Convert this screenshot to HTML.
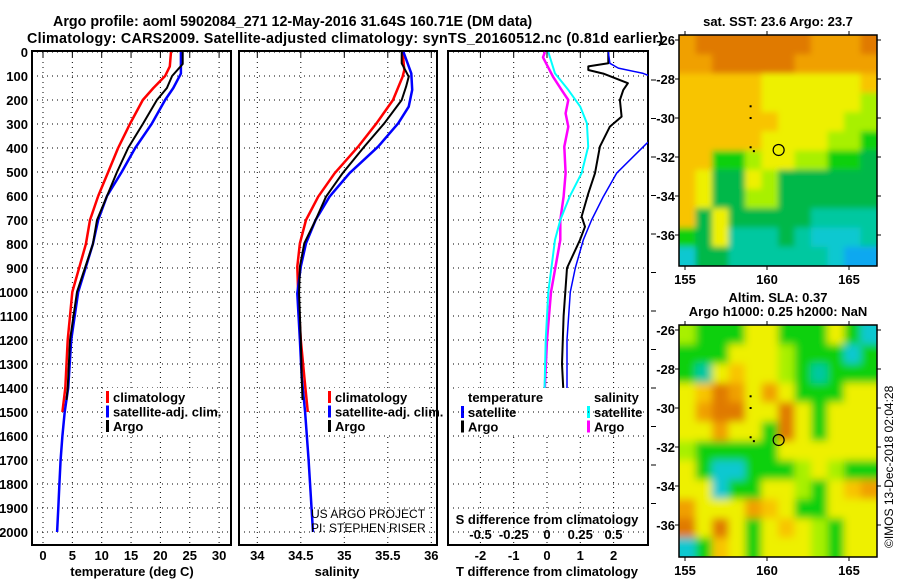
<!DOCTYPE html>
<html><head><meta charset="utf-8">
<style>
body{margin:0;background:#fff;width:900px;height:580px;overflow:hidden}
svg{display:block}
text{font-family:"Liberation Sans",sans-serif;fill:#000}
.b{font-weight:bold;font-size:13px}
.t{font-weight:bold;font-size:14.3px}
</style></head><body>
<svg id="chart" width="900" height="580" xmlns="http://www.w3.org/2000/svg">
<text class="t" x="53" y="26">Argo profile: aoml 5902084_271 12-May-2016 31.64S 160.71E (DM data)</text>
<text class="t" x="27" y="43" textLength="636">Climatology: CARS2009. Satellite-adjusted climatology: synTS_20160512.nc (0.81d earlier)</text>
<g id="g"></g>
</svg>
<script>
// ---------- data ----------
const depthTicks=[0,100,200,300,400,500,600,700,800,900,1000,1100,1200,1300,1400,1500,1600,1700,1800,1900,2000];
const tempTicks=[0,5,10,15,20,25,30];
const salTicks=[34,34.5,35,35.5,36];
const salTickLabels=["34","34.5","35","35.5","36"];
const tdTicks=[-2,-1,0,1,2];
const sdTicks=[-0.5,-0.25,0,0.25,0.5];
const sdTickLabels=["-0.5","-0.25","0","0.25","0.5"];

const climTDepth=[0,60,100,150,200,300,400,500,600,700,800,1000,1200,1400,1500];
const climTVal=[21.8,21.6,20.8,18.8,17.0,14.8,12.8,11.1,9.4,8.0,7.3,5.0,4.2,3.8,3.3];
const argoTDepth=[0,50,100,150,200,300,400,500,600,700,800,1000,1200,1400,1450];
const argoTVal=[23.8,23.8,22.0,21.1,19.4,17.0,14.5,12.6,10.9,9.2,8.5,5.8,4.6,4.2,4.0];
const satTDepth=[0,90,150,200,300,400,500,600,700,800,1000,1200,1400,1500,1600,1700,1800,1900,2000];
const satTVal=[23.5,23.5,22.2,20.8,18.5,15.7,13.4,10.9,9.4,8.5,6.0,4.8,4.3,3.7,3.3,3.0,2.8,2.6,2.4];

const climSDepth=[0,75,103,200,297,394,505,603,700,797,894,1006,1200,1353,1500];
const climSVal=[35.67,35.69,35.67,35.56,35.37,35.16,34.89,34.70,34.56,34.49,34.46,34.47,34.50,34.54,34.58];
const argoSDepth=[0,47,103,144,200,297,394,505,603,700,797,894,1006,1200,1353,1450];
const argoSVal=[35.66,35.66,35.74,35.71,35.66,35.46,35.23,34.98,34.79,34.67,34.54,34.49,34.48,34.50,34.51,34.52];
const satSDepth=[0,89,158,228,297,394,505,603,700,797,894,1006,1200,1353,1500,1700,2000];
const satSVal=[35.68,35.77,35.78,35.74,35.62,35.39,35.06,34.83,34.67,34.56,34.50,34.46,34.49,34.51,34.55,34.59,34.64];

const dTArgoDepth=[0,47,60,75,90,130,158,200,269,311,394,505,589,686,728,783,900,1000,1100,1300,1430];
const dTArgoVal=[1.84,1.84,1.24,1.24,1.69,2.43,2.29,2.19,2.24,1.89,1.59,1.44,1.24,1.04,1.14,0.99,0.6,0.55,0.5,0.45,0.5];
const dTSatDepth=[0,47,67,89,150,250,330,380,505,603,700,783,900,1000,1200,1400,1450];
const dTSatVal=[1.84,1.89,2.14,2.89,4.0,4.0,3.5,3.0,2.09,1.69,1.34,1.09,0.85,0.7,0.6,0.6,0.65];
const dSArgoDepth=[0,22,103,158,200,256,311,394,505,603,700,783,1000,1200,1450];
const dSArgoVal=[-0.015,-0.03,0.045,0.11,0.16,0.14,0.16,0.13,0.14,0.125,0.10,0.10,0.03,0.0,-0.02];
const dSSatDepth=[0,89,158,228,297,394,505,603,700,783,1000,1200,1450];
const dSSatVal=[0.01,0.06,0.16,0.25,0.30,0.31,0.26,0.17,0.10,0.06,0.01,-0.01,-0.02];

const mapLon=[155,160,165];
const mapLat=[-26,-28,-30,-32,-34,-36];
const sstGrid=["oOOOOOOOoooO","ooOOOOOooooo","YYYYYyyyyyyY","YYYYYyyyyyyl","YYYYYYyyyyll","YYYYYyyyyllg","YYgglyyllggG","YyGGylGGGGGG","YyGGllGGGGGG","YGyGGGGGtttt","gGytttGtccct","cGGttttttcbb"];
const slaGrid=["lgggyygggygc","gggyyylgggcg","gtyYyylgtggg","yYOoyoygggyy","yoOOyyOygyyy","yyoyygOygyyy","lgggggyyyyyy","ygccggglylgg","yycggyylgyYo","oyyyoYyggyyy","OyOygyYylgyy","cgYygyyylgyy"];
const cmap={O:"#e07a00",o:"#f0a000",Y:"#f8c400",y:"#eef000",l:"#a8f000",g:"#10d010",G:"#00b848",t:"#00c8a0",c:"#10c8d0",b:"#10a8f0"};

// ---------- helpers ----------
const NS="http://www.w3.org/2000/svg";
const G=document.getElementById('g');
function mk(tag,attrs,parent){const e=document.createElementNS(NS,tag);for(const k in attrs)e.setAttribute(k,attrs[k]);(parent||G).appendChild(e);return e;}
const yD=d=>52+0.24*d;
const xT=t=>43+5.87*t;
const xS=s=>257.3+87*(s-34);
const xdT=v=>547+33.3*v;
const xdS=v=>547+133*v;

const panels=[{x0:32,x1:231,name:'temperature-panel'},{x0:239,x1:437,name:'salinity-panel'},{x0:448,x1:648,name:'difference-panel'}];
mk('clipPath',{id:'c0'}).appendChild(mk('rect',{x:32,y:51,width:199,height:494}));
mk('clipPath',{id:'c1'}).appendChild(mk('rect',{x:239,y:51,width:198,height:494}));
mk('clipPath',{id:'c2'}).appendChild(mk('rect',{x:448,y:51,width:200,height:494}));

panels.forEach((p,i)=>{
  const r=mk('rect',{x:p.x0,y:51,width:p.x1-p.x0,height:494,fill:'#fff',stroke:'#000','stroke-width':2});
  
  
  depthTicks.forEach(d=>{
    const l=mk('line',{x1:p.x0,x2:p.x1,y1:yD(d),y2:yD(d),stroke:'#000','stroke-width':1,'stroke-dasharray':'1 4'});
    
    
  });
});
depthTicks.forEach(d=>{
  const t=mk('text',{x:28,y:yD(d)+5,'text-anchor':'end','class':'b'});t.textContent=d;
  
  
});
function vgrid(xs,fx,labels,ly){
  xs.forEach((v,i)=>{
    const l=mk('line',{x1:fx(v),x2:fx(v),y1:52,y2:545,stroke:'#000','stroke-dasharray':'1 4'});
    
    
    mk('line',{x1:fx(v),x2:fx(v),y1:51,y2:57,stroke:'#000'});
    const t=mk('text',{x:fx(v),y:ly,'text-anchor':'middle','class':'b'});t.textContent=labels[i];
    
    
  });
}
vgrid(tempTicks,xT,tempTicks.map(String),560);
vgrid(salTicks,xS,salTickLabels,560);
vgrid(tdTicks,xdT,tdTicks.map(String),560);
sdTicks.forEach((v,i)=>{const t=mk('text',{x:xdS(v),y:539,'text-anchor':'middle','class':'b'});t.textContent=sdTickLabels[i];
  
  });

function line(ds,vs,fx,color,w,clip,name){
  const d=ds.map((dd,i)=>(i?'L':'M')+fx(vs[i]).toFixed(1)+','+yD(dd).toFixed(1)).join('');
  const e=mk('path',{d:d,fill:'none',stroke:color,'stroke-width':w,'clip-path':'url(#'+clip+')','stroke-linejoin':'round'});
  
  
}
line(climTDepth,climTVal,xT,'#f00',2.5,'c0','climatology-temperature-line');
line(satTDepth,satTVal,xT,'#00f',2.5,'c0','satellite-temperature-line');
line(argoTDepth,argoTVal,xT,'#000',2,'c0','argo-temperature-line');
line(climSDepth,climSVal,xS,'#f00',2.5,'c1','climatology-salinity-line');
line(satSDepth,satSVal,xS,'#00f',2.5,'c1','satellite-salinity-line');
line(argoSDepth,argoSVal,xS,'#000',2,'c1','argo-salinity-line');
line(dSArgoDepth,dSArgoVal,xdS,'#f0f',2.5,'c2','argo-salinity-diff-line');
line(dSSatDepth,dSSatVal,xdS,'#0ff',2,'c2','satellite-salinity-diff-line');
line(dTArgoDepth,dTArgoVal,xdT,'#000',2,'c2','argo-temperature-diff-line');
line(dTSatDepth,dTSatVal,xdT,'#00f',1.5,'c2','satellite-temperature-diff-line');

function legend(x,y,items,name){
  items.forEach((it,i)=>{
    mk('rect',{x:x-7,y:y+i*14.5-6,width:3,height:12,fill:it[1]});
    const t=mk('text',{x:x,y:y+i*14.5+5,'class':'b'});t.textContent=it[0];
    
    
  });
}
[[113,397],[335,397]].forEach(p=>{
  mk('rect',{x:p[0]-9,y:388,width:100,height:45,fill:'#fff'});
  legend(p[0],p[1],[['climatology','#f00'],['satellite-adj. clim.','#00f'],['Argo','#000']],'legend');
});
mk('rect',{x:455,y:388,width:190,height:45,fill:'#fff'});
let tt=mk('text',{x:468,y:402,'class':'b'});tt.textContent='temperature';
legend(468,412,[['satellite','#00f'],['Argo','#000']],'temperature-legend');
tt=mk('text',{x:594,y:402,'class':'b'});tt.textContent='salinity';
legend(594,412,[['satellite','#0ff'],['Argo','#f0f']],'salinity-legend');
mk('line',{x1:448,x2:648,y1:yD(1500),y2:yD(1500),stroke:'#000','stroke-dasharray':'1 4'});

let s=mk('text',{x:311,y:518,'font-size':'12','fill':'#222'});s.textContent='US ARGO PROJECT';
s=mk('text',{x:311,y:532,'font-size':'12'});s.textContent='PI: STEPHEN RISER';
s=mk('text',{x:547,y:524,'text-anchor':'middle','class':'b'});s.textContent='S difference from climatology';

s=mk('text',{x:132,y:576,'text-anchor':'middle','class':'b'});s.textContent='temperature (deg C)';

s=mk('text',{x:337,y:576,'text-anchor':'middle','class':'b'});s.textContent='salinity';

s=mk('text',{x:547,y:576,'text-anchor':'middle','class':'b'});s.textContent='T difference from climatology';

for(let y=80;y<540;y+=38.5){mk('line',{x1:651,x2:656,y1:y,y2:y,stroke:'#000'});}

// ---------- maps ----------
function drawMap(grid,top,bottom,latTop,title,name,id,blur){
  const x0=679,x1=877,w=x1-x0,h=bottom-top;
  const lonX=l=>685+16.4*(l-155);
  const latY=l=>latTop+19.5*(-26-l);
  mk('clipPath',{id:id}).appendChild(mk('rect',{x:x0,y:top,width:w,height:h}));
  const f=mk('filter',{id:id+'f',x:'-5%',y:'-5%',width:'110%',height:'110%'});
  mk('feGaussianBlur',{stdDeviation:blur},f);
  const gg=mk('g',{'clip-path':'url(#'+id+')'});
  
  
  const inner=mk('g',{filter:'url(#'+id+'f)'},gg);
  const cw=w/12,ch=h/12;
  mk('rect',{x:x0-20,y:top-20,width:w+40,height:h+40,fill:cmap[grid[0][0]]},inner);
  grid.forEach((row,r)=>{for(let c=0;c<12;c++){
    let rx=x0+c*cw-(c==0?20:0),ry=top+r*ch-(r==0?20:0);
    let rw=cw+1+(c==0||c==11?20:0),rh=ch+1+(r==0||r==11?20:0);
    mk('rect',{x:rx,y:ry,width:rw,height:rh,fill:cmap[row[c]]||'#ee0'},inner);}});
  [[159,-29.4],[159,-30],[159,-31.5],[159.2,-31.7]].forEach(p=>mk('rect',{x:lonX(p[0])-1,y:latY(p[1])-1,width:2,height:2,fill:'#000'},gg));
  mk('circle',{cx:lonX(160.71),cy:latY(-31.64),r:5.5,fill:'none',stroke:'#000','stroke-width':1.2},gg);
  mk('rect',{x:x0,y:top,width:w,height:h,fill:'none',stroke:'#000','stroke-width':1.5});
  mapLon.forEach(l=>{mk('line',{x1:lonX(l),x2:lonX(l),y1:top-4,y2:top,stroke:'#000'});mk('line',{x1:lonX(l),x2:lonX(l),y1:bottom,y2:bottom+4,stroke:'#000'});
    const t=mk('text',{x:lonX(l),y:bottom+18,'text-anchor':'middle','class':'b'});t.textContent=l;
    
    });
  mapLat.forEach(l=>{mk('line',{x1:x0-4,x2:x0,y1:latY(l),y2:latY(l),stroke:'#000'});mk('line',{x1:x1,x2:x1+4,y1:latY(l),y2:latY(l),stroke:'#000'});
    const t=mk('text',{x:675,y:latY(l)+5,'text-anchor':'end','class':'b'});t.textContent=l;
    
    });
  title.forEach((tx,i)=>{const t=mk('text',{x:778,y:top-(title.length-1-i)*14-9,'text-anchor':'middle','class':'b','font-size':'12'});t.textContent=tx;
    
    });
}
drawMap(sstGrid,35,266,40,['sat. SST: 23.6 Argo: 23.7'],'sst-map','m1',3);
drawMap(slaGrid,325,557,330,['Altim. SLA: 0.37','Argo h1000: 0.25 h2000: NaN'],'sla-map','m2',4);
s=mk('text',{x:0,y:0,'font-size':'12',transform:'translate(893,548) rotate(-90)'});s.textContent='©IMOS 13-Dec-2018 02:04:28';

</script>
</body></html>
